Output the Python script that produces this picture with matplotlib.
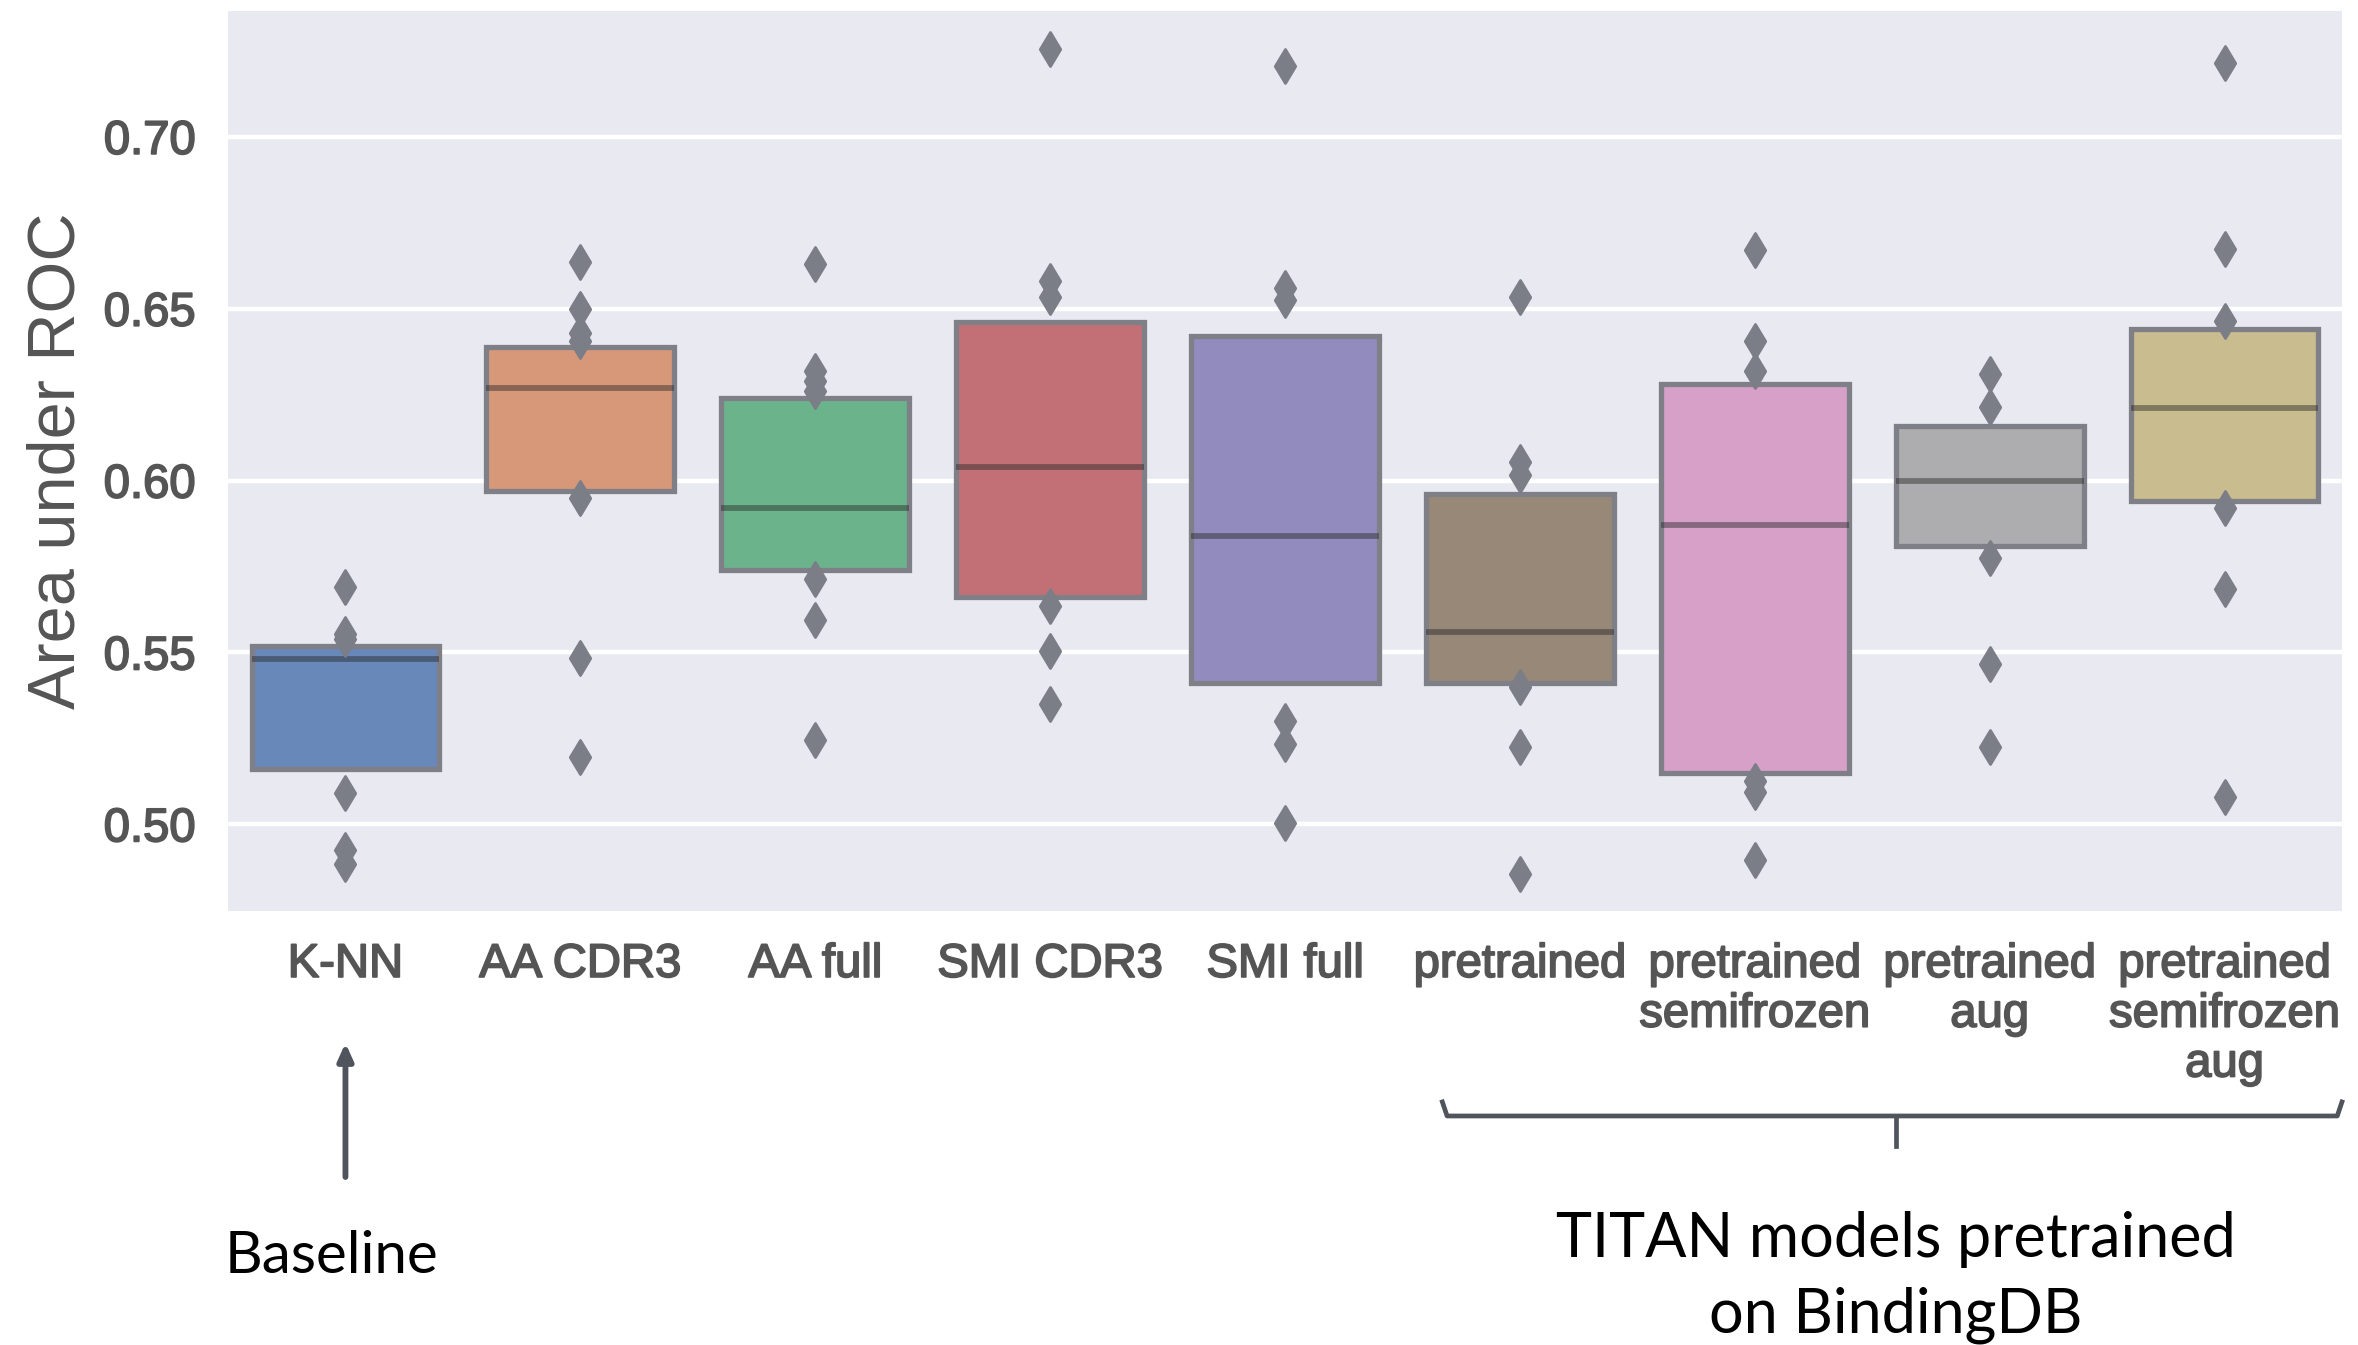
import matplotlib
matplotlib.use('Agg')
import matplotlib.pyplot as plt
import matplotlib.patheffects as pe

categories = ['K-NN', 'AA CDR3', 'AA full', 'SMI CDR3', 'SMI full', 'pretrained',
              'pretrained\nsemifrozen', 'pretrained\naug', 'pretrained\nsemifrozen\naug']

# box = lower / upper quartile, median line
q_low = [0.516, 0.597, 0.574, 0.566, 0.541, 0.541, 0.515, 0.581, 0.594]
q_high = [0.552, 0.639, 0.624, 0.646, 0.642, 0.596, 0.628, 0.616, 0.644]
medians = [0.548, 0.627, 0.592, 0.604, 0.584, 0.556, 0.587, 0.600, 0.621]

# points outside the boxes
outliers = [
    [0.569, 0.5555, 0.554, 0.509, 0.4925, 0.4885],
    [0.6635, 0.650, 0.643, 0.6405, 0.595, 0.5485, 0.5195],
    [0.663, 0.632, 0.629, 0.626, 0.5715, 0.5595, 0.5245],
    [0.7255, 0.658, 0.6535, 0.5635, 0.5505, 0.535],
    [0.7205, 0.656, 0.6525, 0.530, 0.5235, 0.5005],
    [0.6535, 0.6055, 0.6015, 0.540, 0.5225, 0.4855],
    [0.667, 0.6405, 0.632, 0.5125, 0.5095, 0.4895],
    [0.631, 0.6215, 0.5775, 0.5465, 0.5225],
    [0.7215, 0.6675, 0.6465, 0.592, 0.5685, 0.508],
]

colors = ['#6888BA', '#D7987A', '#6BB38B', '#C27076', '#918BBE',
          '#988878', '#D6A0C9', '#ADADB0', '#C9BC8F']
yticks = [0.50, 0.55, 0.60, 0.65, 0.70]

edge = '#7f7f87'
text_gray = '#555555'
heavy = [pe.withStroke(linewidth=1.3, foreground=text_gray)]

fig = plt.figure(figsize=(23.58, 13.45), dpi=100)
ax = fig.add_axes([0.0967, 0.3227, 0.8965, 0.6691])
ax.set_facecolor('#E9E9F1')
for s in ax.spines.values():
    s.set_visible(False)

ax.set_xlim(-0.5, len(categories) - 0.5)
ax.set_ylim(0.4748, 0.7366)
ax.set_yticks(yticks)
ax.set_yticklabels(['%.2f' % t for t in yticks])
ax.yaxis.grid(True, color='white', linewidth=3.2)
ax.set_axisbelow(True)

xs = list(range(len(categories)))
ax.bar(xs, [h - l for l, h in zip(q_low, q_high)], bottom=q_low, width=0.8,
       color=colors, edgecolor=edge, linewidth=3.8, zorder=2)
ax.hlines(medians, [x - 0.4 for x in xs], [x + 0.4 for x in xs],
          color='#262626', alpha=0.45, linewidth=4.2, zorder=3)
for x, pts in zip(xs, outliers):
    ax.scatter([x] * len(pts), pts, marker='d', s=300, color='#7b7e86',
               edgecolor='#7b7e86', linewidth=2, zorder=4)

ax.set_xticks(xs)
ax.set_xticklabels(categories, linespacing=1.17)
ax.tick_params(length=0)
ax.tick_params(axis='y', pad=23)
ax.tick_params(axis='x', pad=23)
for lab in ax.get_xticklabels() + ax.get_yticklabels():
    lab.set_fontfamily('Liberation Sans')
    lab.set_fontsize(34)
    lab.set_color(text_gray)
    lab.set_path_effects(heavy)
ax.set_ylabel('Area under ROC', fontsize=48, color=text_gray,
              fontfamily='Liberation Sans', labelpad=11)

# annotations below the axis
tr = ax.get_xaxis_transform()
ax.annotate('', xy=(0, -0.1467), xytext=(0, -0.2956), xycoords=tr, textcoords=tr,
            arrowprops=dict(arrowstyle='-|>,head_length=1.0,head_width=0.45',
                            color='#50555d', linewidth=4.2, shrinkA=0, shrinkB=0),
            annotation_clip=False)
ax.text(-0.06, -0.4022, 'Baseline', transform=tr, ha='center', va='baseline',
        fontsize=42, fontfamily='Lato', color='black')

ax.plot([4.67, 4.69, 8.48, 8.5], [-0.2122, -0.2278, -0.2278, -0.2122], transform=tr,
        color='#50555d', linewidth=3.4, clip_on=False, solid_joinstyle='round')
ax.plot([6.6, 6.6], [-0.2278, -0.2611], transform=tr,
        color='#50555d', linewidth=3.4, clip_on=False)
ax.text(6.6, -0.3850, 'TITAN models pretrained', transform=tr, ha='center',
        va='baseline', fontsize=44, fontfamily='Lato', color='black')
ax.text(6.6, -0.4680, 'on BindingDB', transform=tr, ha='center',
        va='baseline', fontsize=44, fontfamily='Lato', color='black')

fig.savefig('out.png', dpi=100)
